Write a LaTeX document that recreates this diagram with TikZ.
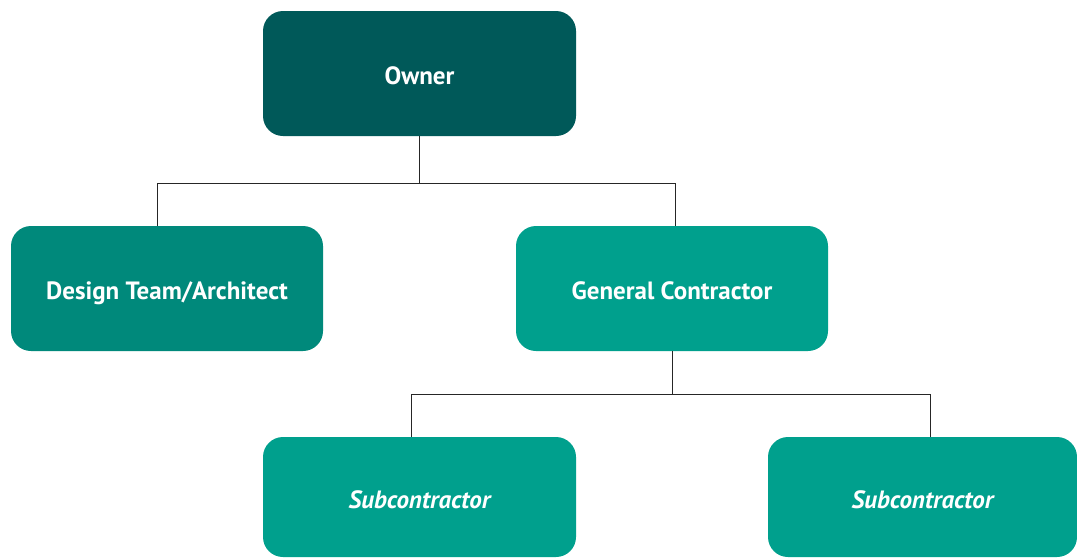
\documentclass[tikz,border=0pt]{standalone}
\usepackage{fontspec}
\setmainfont{PT Sans}
\definecolor{ownerteal}{HTML}{005959}
\definecolor{designteal}{HTML}{00897B}
\definecolor{contrteal}{HTML}{00A08D}
\tikzset{
  orgbox/.style={rounded corners=20pt, inner sep=0pt, minimum width=313pt,
    minimum height=125pt, text height=22pt, text depth=0pt, text=white,
    font=\fontsize{25}{30}\selectfont\bfseries},
  orgline/.style={draw=black!85, line width=0.9pt}
}
\begin{document}
\begin{tikzpicture}[x=1pt, y=-1pt]
\useasboundingbox (0,0) rectangle (1077,558);
\fill[white] (0,0) rectangle (1077,558);

\node[orgbox, fill=ownerteal]  (owner)  at (419.5, 73.5) {Owner};
\node[orgbox, fill=designteal, minimum width=312pt] (design) at (167, 288.5) {Design Team/Architect};
\node[orgbox, fill=contrteal, minimum width=312pt]  (gc)     at (672, 288.5) {General Contractor};
\node[orgbox, fill=contrteal, minimum height=120pt] (subA) at (419.5, 497) {\itshape Subcontractor};
\node[orgbox, fill=contrteal, minimum height=120pt, minimum width=309pt] (subB) at (922.5, 497) {\itshape Subcontractor};

%\draw (owner) -- (gc);
\draw[orgline] (owner.south) -- ++(0,47) -| ([xshift=-10pt]design.north);
\draw[orgline] (owner.south) -- ++(0,47) -| ([xshift=3pt]gc.north);
\draw[orgline] (gc.south) -- ++(0,43) -| ([xshift=-8.5pt]subA.north);
\draw[orgline] (gc.south) -- ++(0,43) -| ([xshift=7.5pt]subB.north);
\end{tikzpicture}
\end{document}
